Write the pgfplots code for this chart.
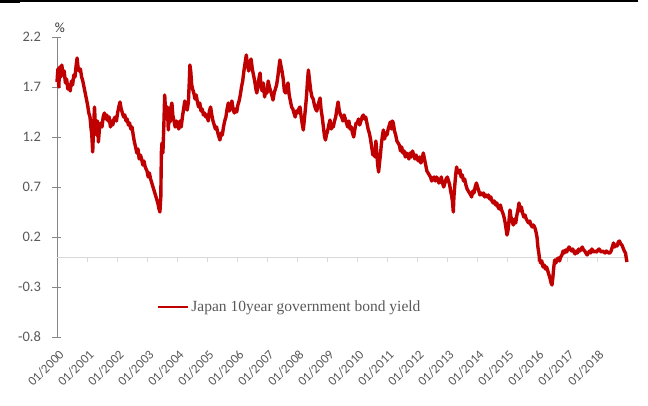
\documentclass[border=0pt]{standalone}
\usepackage{fontspec}
\usepackage{pgfplots}
\usepackage{pgfplotstable}
\pgfplotsset{compat=1.18}
\setmainfont{Carlito}
\newfontfamily\legfont{Liberation Serif}
\definecolor{jred}{HTML}{C00000}
\definecolor{tickgray}{HTML}{595959}
\definecolor{axgray}{HTML}{868686}
\definecolor{zgray}{HTML}{D9D9D9}
\pgfplotstableread{
t v
2000.00 1.75
2000.03 1.88
2000.06 1.70
2000.09 1.90
2000.13 1.80
2000.16 1.92
2000.20 1.82
2000.24 1.86
2000.28 1.74
2000.32 1.78
2000.36 1.68
2000.40 1.72
2000.44 1.66
2000.48 1.76
2000.52 1.72
2000.56 1.82
2000.60 1.80
2000.64 1.92
2000.67 1.99
2000.70 1.90
2000.74 1.86
2000.78 1.88
2000.82 1.80
2000.86 1.76
2000.90 1.70
2000.94 1.64
2000.98 1.58
2001.02 1.52
2001.06 1.44
2001.10 1.40
2001.13 1.30
2001.16 1.22
2001.19 1.05
2001.22 1.30
2001.25 1.50
2001.28 1.30
2001.31 1.22
2001.35 1.36
2001.38 1.15
2001.42 1.30
2001.46 1.34
2001.50 1.30
2001.54 1.40
2001.58 1.44
2001.62 1.38
2001.66 1.42
2001.70 1.36
2001.74 1.40
2001.78 1.30
2001.82 1.36
2001.86 1.32
2001.90 1.38
2001.94 1.40
2001.98 1.36
2002.02 1.44
2002.06 1.50
2002.10 1.55
2002.14 1.48
2002.18 1.44
2002.22 1.40
2002.26 1.42
2002.30 1.36
2002.34 1.38
2002.38 1.32
2002.42 1.34
2002.46 1.28
2002.50 1.30
2002.54 1.22
2002.58 1.15
2002.62 1.10
2002.66 1.04
2002.70 1.08
2002.74 0.98
2002.78 1.02
2002.82 0.98
2002.86 0.92
2002.90 0.96
2002.94 0.90
2003.00 0.86
2003.04 0.80
2003.08 0.84
2003.12 0.78
2003.16 0.74
2003.20 0.70
2003.24 0.66
2003.28 0.62
2003.32 0.58
2003.36 0.54
2003.40 0.48
2003.43 0.45
2003.46 0.60
2003.48 1.05
2003.50 1.14
2003.53 1.04
2003.56 1.30
2003.59 1.62
2003.62 1.45
2003.65 1.38
2003.68 1.50
2003.71 1.27
2003.74 1.45
2003.77 1.35
2003.80 1.50
2003.83 1.54
2003.86 1.42
2003.90 1.36
2003.94 1.30
2003.98 1.36
2004.02 1.32
2004.06 1.28
2004.10 1.36
2004.14 1.30
2004.18 1.40
2004.22 1.48
2004.26 1.56
2004.30 1.50
2004.34 1.47
2004.38 1.55
2004.41 1.75
2004.43 1.92
2004.46 1.85
2004.49 1.72
2004.52 1.68
2004.56 1.64
2004.60 1.58
2004.64 1.62
2004.68 1.55
2004.72 1.50
2004.76 1.54
2004.80 1.46
2004.84 1.48
2004.88 1.42
2004.92 1.44
2004.96 1.40
2005.00 1.42
2005.04 1.36
2005.08 1.46
2005.12 1.50
2005.16 1.42
2005.20 1.36
2005.24 1.32
2005.28 1.28
2005.32 1.30
2005.36 1.24
2005.40 1.20
2005.43 1.17
2005.47 1.24
2005.51 1.22
2005.55 1.30
2005.59 1.36
2005.63 1.40
2005.67 1.48
2005.71 1.54
2005.75 1.46
2005.79 1.50
2005.83 1.56
2005.87 1.48
2005.91 1.44
2005.95 1.48
2005.99 1.45
2006.03 1.52
2006.07 1.56
2006.11 1.62
2006.15 1.70
2006.19 1.76
2006.23 1.86
2006.27 1.94
2006.31 2.02
2006.35 1.92
2006.39 1.86
2006.43 1.94
2006.47 1.98
2006.51 1.88
2006.55 1.82
2006.59 1.76
2006.63 1.68
2006.66 1.64
2006.70 1.72
2006.74 1.80
2006.77 1.84
2006.80 1.70
2006.84 1.66
2006.88 1.74
2006.92 1.60
2006.96 1.66
2007.00 1.64
2007.04 1.76
2007.08 1.70
2007.12 1.66
2007.16 1.62
2007.20 1.57
2007.24 1.64
2007.28 1.68
2007.32 1.72
2007.36 1.80
2007.40 1.90
2007.43 1.97
2007.46 1.92
2007.50 1.86
2007.54 1.78
2007.58 1.66
2007.62 1.64
2007.66 1.70
2007.70 1.74
2007.74 1.62
2007.78 1.56
2007.82 1.50
2007.86 1.48
2007.90 1.44
2007.94 1.40
2007.98 1.46
2008.02 1.44
2008.06 1.48
2008.10 1.50
2008.14 1.40
2008.18 1.32
2008.21 1.27
2008.24 1.36
2008.28 1.48
2008.32 1.62
2008.35 1.76
2008.38 1.87
2008.42 1.76
2008.46 1.66
2008.50 1.60
2008.54 1.58
2008.58 1.52
2008.62 1.48
2008.66 1.46
2008.70 1.52
2008.74 1.56
2008.77 1.59
2008.80 1.48
2008.84 1.40
2008.88 1.30
2008.92 1.20
2008.95 1.17
2008.98 1.22
2009.02 1.26
2009.06 1.32
2009.10 1.37
2009.14 1.28
2009.18 1.32
2009.21 1.30
2009.25 1.36
2009.29 1.40
2009.33 1.48
2009.37 1.55
2009.41 1.46
2009.45 1.42
2009.49 1.40
2009.53 1.36
2009.57 1.42
2009.61 1.38
2009.65 1.34
2009.69 1.30
2009.73 1.36
2009.77 1.28
2009.81 1.30
2009.85 1.24
2009.89 1.20
2009.93 1.28
2009.97 1.34
2010.01 1.34
2010.05 1.38
2010.09 1.32
2010.13 1.36
2010.17 1.40
2010.21 1.42
2010.25 1.38
2010.29 1.40
2010.33 1.34
2010.37 1.28
2010.41 1.24
2010.45 1.18
2010.49 1.10
2010.53 1.02
2010.57 1.06
2010.60 1.00
2010.63 1.16
2010.66 1.04
2010.69 0.92
2010.72 0.85
2010.75 0.94
2010.78 1.02
2010.81 1.12
2010.85 1.22
2010.88 1.27
2010.92 1.18
2010.96 1.24
2011.00 1.22
2011.04 1.28
2011.08 1.32
2011.11 1.35
2011.15 1.28
2011.18 1.36
2011.21 1.34
2011.25 1.26
2011.29 1.22
2011.33 1.16
2011.37 1.14
2011.41 1.12
2011.45 1.06
2011.49 1.10
2011.53 1.04
2011.57 1.06
2011.61 1.00
2011.65 1.04
2011.69 1.02
2011.73 0.98
2011.77 1.04
2011.81 1.00
2011.85 1.06
2011.89 1.02
2011.93 0.98
2011.97 1.02
2012.01 0.98
2012.05 0.96
2012.09 1.00
2012.13 0.94
2012.17 0.98
2012.21 1.04
2012.25 0.98
2012.29 0.92
2012.33 0.86
2012.37 0.84
2012.41 0.82
2012.45 0.80
2012.49 0.76
2012.53 0.78
2012.57 0.80
2012.61 0.76
2012.65 0.80
2012.69 0.78
2012.73 0.74
2012.77 0.76
2012.81 0.80
2012.85 0.74
2012.89 0.70
2012.93 0.74
2012.97 0.78
2013.01 0.80
2013.05 0.76
2013.09 0.72
2013.12 0.66
2013.15 0.62
2013.18 0.56
2013.21 0.45
2013.23 0.60
2013.26 0.72
2013.29 0.82
2013.32 0.90
2013.35 0.86
2013.39 0.84
2013.43 0.87
2013.47 0.80
2013.51 0.82
2013.55 0.76
2013.59 0.78
2013.63 0.72
2013.67 0.68
2013.71 0.66
2013.75 0.64
2013.79 0.62
2013.82 0.60
2013.86 0.66
2013.90 0.64
2013.94 0.70
2013.98 0.74
2014.02 0.70
2014.06 0.66
2014.10 0.62
2014.14 0.64
2014.18 0.62
2014.22 0.64
2014.26 0.60
2014.30 0.62
2014.34 0.60
2014.38 0.62
2014.42 0.58
2014.46 0.60
2014.50 0.56
2014.54 0.54
2014.58 0.56
2014.62 0.52
2014.66 0.54
2014.70 0.50
2014.74 0.48
2014.78 0.52
2014.82 0.47
2014.86 0.44
2014.90 0.40
2014.94 0.34
2014.97 0.28
2015.00 0.22
2015.03 0.26
2015.06 0.34
2015.10 0.47
2015.13 0.40
2015.17 0.36
2015.21 0.32
2015.25 0.38
2015.29 0.34
2015.33 0.42
2015.37 0.48
2015.40 0.54
2015.44 0.46
2015.48 0.50
2015.52 0.44
2015.56 0.40
2015.60 0.42
2015.64 0.38
2015.68 0.36
2015.72 0.34
2015.76 0.36
2015.80 0.32
2015.84 0.30
2015.88 0.32
2015.92 0.30
2015.96 0.26
2016.00 0.20
2016.03 0.10
2016.06 0.04
2016.09 -0.03
2016.12 -0.06
2016.16 -0.04
2016.20 -0.10
2016.24 -0.08
2016.28 -0.12
2016.32 -0.10
2016.36 -0.14
2016.40 -0.18
2016.44 -0.22
2016.47 -0.26
2016.50 -0.28
2016.53 -0.20
2016.56 -0.10
2016.59 -0.03
2016.63 -0.06
2016.67 -0.02
2016.71 -0.01
2016.75 -0.04
2016.79 0.00
2016.83 0.02
2016.87 0.06
2016.91 0.04
2016.95 0.07
2016.99 0.05
2017.03 0.08
2017.07 0.10
2017.11 0.08
2017.15 0.06
2017.19 0.08
2017.23 0.05
2017.27 0.03
2017.31 0.06
2017.35 0.04
2017.39 0.08
2017.43 0.06
2017.47 0.08
2017.51 0.10
2017.55 0.07
2017.59 0.06
2017.63 0.04
2017.67 0.02
2017.71 0.04
2017.75 0.06
2017.79 0.04
2017.83 0.08
2017.87 0.06
2017.91 0.05
2017.95 0.06
2017.99 0.05
2018.03 0.07
2018.07 0.08
2018.11 0.06
2018.15 0.05
2018.19 0.06
2018.23 0.05
2018.27 0.04
2018.31 0.06
2018.35 0.05
2018.39 0.04
2018.43 0.04
2018.47 0.06
2018.51 0.10
2018.55 0.14
2018.59 0.10
2018.63 0.12
2018.67 0.11
2018.71 0.15
2018.75 0.16
2018.79 0.13
2018.83 0.12
2018.87 0.09
2018.91 0.06
2018.95 0.04
2018.98 -0.02
2019.00 -0.05
}\jgb
\begin{document}
\begin{tikzpicture}
\begin{axis}[
  scale only axis, width=570pt, height=300pt,
  xmin=0, xmax=19, ymin=-0.8, ymax=2.2,
  axis lines=left, axis line style={-},
  x axis line style={draw=none},
  y axis line style={axgray, line width=0.8pt},
  xtick={0,...,18},
  xticklabels={01/2000,01/2001,01/2002,01/2003,01/2004,01/2005,01/2006,01/2007,01/2008,01/2009,01/2010,01/2011,01/2012,01/2013,01/2014,01/2015,01/2016,01/2017,01/2018},
  xtick style={draw=none},
  ytick={-0.8,-0.3,0.2,0.7,1.2,1.7,2.2},
  yticklabels={-0.8,-0.3,0.2,0.7,1.2,1.7,2.2},
  ytick style={axgray, line width=0.8pt},
  tick align=center, major tick length=9pt,
  yticklabel style={font=\fontsize{14.5}{16}\selectfont, text=tickgray, xshift=-8pt},
  xticklabel style={font=\fontsize{13}{15}\selectfont, text=tickgray, rotate=45, anchor=east, yshift=-11pt, xshift=-1pt},
  clip=false,
  legend style={at={(rel axis cs:0.175,0.1)}, anchor=west, draw=none, fill=none,
    inner sep=0pt, font=\legfont\fontsize{15.5}{17}\selectfont, text=tickgray},
  legend image code/.code={\draw[jred, line width=2.5pt] (0pt,0pt) -- (30pt,0pt);},
  legend cell align=left,
]
\draw[zgray, line width=0.8pt] (axis cs:0,0) -- (axis cs:19,0);
\pgfplotsinvokeforeach{1,...,19}{\draw[zgray, line width=0.8pt] (axis cs:#1,0) -- (axis cs:#1,-0.05);}
\addplot[jred, line width=3.4pt, line join=round] table[x expr=\thisrow{t}-2000, y=v] {\jgb};
\addlegendentry{Japan 10year government bond yield}
\node[font=\fontsize{14}{16}\selectfont, text=black!80, anchor=base] at (rel axis cs:0,1) [xshift=3pt, yshift=4pt] {\%};
\end{axis}
\fill[black] (-57pt,335pt) rectangle (581pt,337pt);
\fill[black] (-57pt,333.7pt) rectangle (-37pt,337pt);
\pgfresetboundingbox
\path (-57pt,-69pt) rectangle (591pt,337pt);
\end{tikzpicture}
\end{document}
